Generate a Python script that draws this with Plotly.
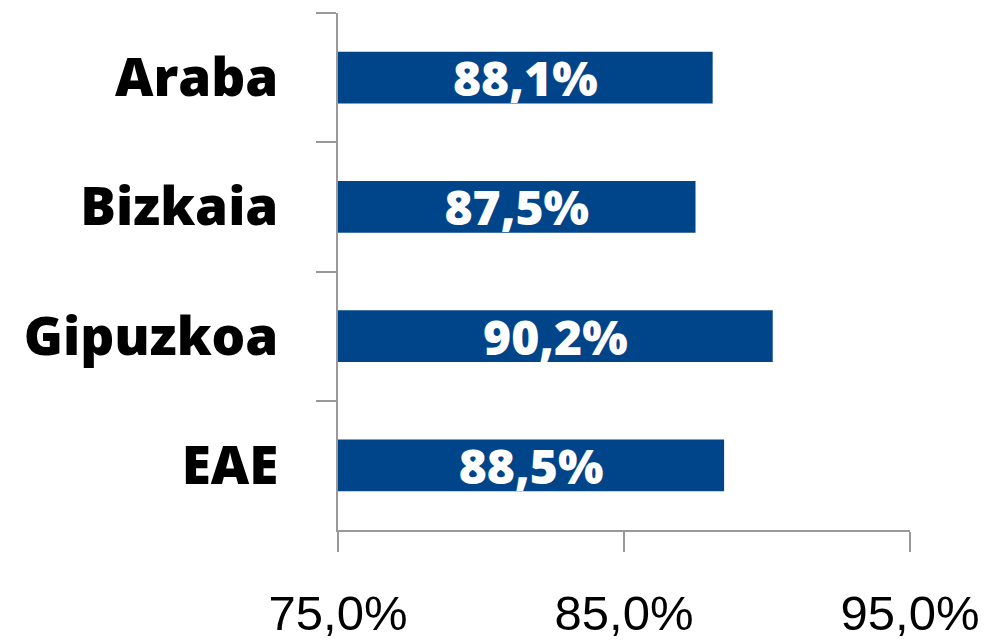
import plotly.graph_objects as go

categories = ["Araba", "Bizkaia", "Gipuzkoa", "EAE"]
values = [88.1, 87.5, 90.2, 88.5]
labels = ["88,1%", "87,5%", "90,2%", "88,5%"]
x_tickvals = [75, 85, 95]
x_ticktext = ["75,0%", "85,0%", "95,0%"]
axis_min = 75

fig = go.Figure(go.Bar(
    y=categories,
    x=[v - axis_min for v in values],
    base=axis_min,
    orientation="h",
    marker=dict(color="#004489", line=dict(width=0)),
    text=labels,
    textposition="inside",
    insidetextanchor="middle",
    constraintext="none",
    textangle=0,
    textfont=dict(family="Open Sans", size=48, color="white", weight=800),
    width=0.4,
))

fig.update_layout(
    width=992, height=640,
    margin=dict(l=338, r=82, t=13, b=110, autoexpand=False),
    paper_bgcolor="white", plot_bgcolor="white",
    showlegend=False,
    uniformtext=dict(mode=False),
)
fig.update_yaxes(
    categoryorder="array", categoryarray=categories, autorange="reversed",
    tickson="boundaries", ticks="outside", ticklen=20, tickcolor="#999999", tickwidth=2,
    showline=True, linecolor="#999999", linewidth=2,
    showgrid=False, zeroline=False, automargin=False,
    tickfont=dict(family="Open Sans", size=53, color="black", weight=800),
    ticklabelstandoff=47,
)
fig.update_xaxes(
    range=[75, 95], tickvals=x_tickvals, ticktext=x_ticktext,
    ticks="outside", ticklen=20, tickcolor="#999999", tickwidth=2,
    showline=True, linecolor="#999999", linewidth=2,
    showgrid=False, zeroline=False, automargin=False,
    tickfont=dict(family="Liberation Sans", size=49, color="black"),
    ticklabelstandoff=19,
)
fig.write_html("out.html", config={"displayModeBar": False},
               post_script="document.body.style.margin='0';")
